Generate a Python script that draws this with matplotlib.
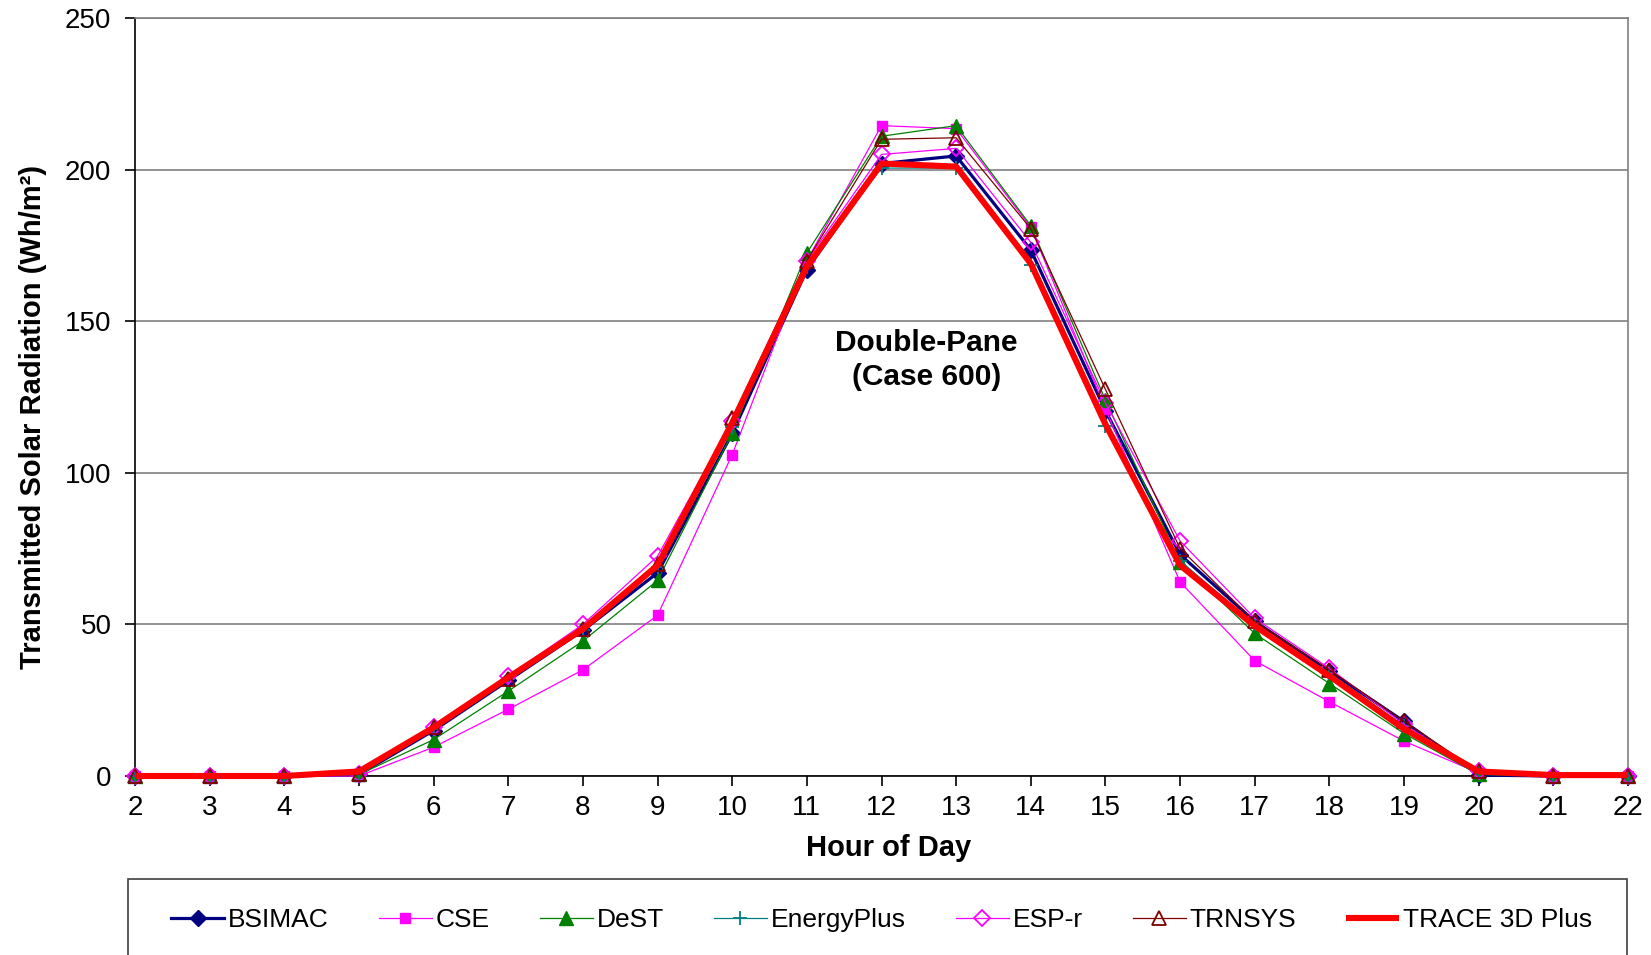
import matplotlib
matplotlib.use("Agg")
import matplotlib.pyplot as plt
from matplotlib.patches import Rectangle

hours = list(range(2, 23))
bsimac = [0, 0, 0, 0.5, 15, 31.5, 48, 67, 113, 167, 202, 204.5, 173.5, 120.5, 73, 51, 34.5, 18, 0.3, 0, 0]
cse = [0, 0, 0, 0, 9.5, 22, 35, 53, 106, 170, 214.5, 213.5, 181, 121, 64, 38, 24.5, 11.5, 1, 0, 0]
dest = [0, 0, 0, 0.5, 12, 28, 44.5, 64.5, 113, 172.5, 211, 214.5, 181.5, 124, 70.5, 47, 30.5, 14, 0.5, 0, 0]
energyplus = [0, 0, 0, 1, 15.5, 32, 48, 69, 115, 168, 200.5, 200.5, 168.5, 115.5, 71, 50, 34, 16.5, 1, 0, 0]
espr = [0, 0, 0, 0.5, 16, 33, 50, 72.5, 117, 170, 205, 207, 176, 123, 77.5, 52, 35.5, 17, 1.5, 0, 0]
trnsys = [0, 0, 0, 0.5, 16, 32, 48.5, 70, 118, 170, 210, 210.5, 180.5, 127.5, 75, 51, 35, 18, 1.5, 0, 0]
trace = [0, 0, 0, 1.5, 16, 32.5, 48.5, 69.5, 116.5, 168, 202, 201, 169, 116, 69.5, 49.5, 33, 15.5, 1.5, 0.3, 0.3]

series_names = ["BSIMAC", "CSE", "DeST", "EnergyPlus", "ESP-r", "TRNSYS", "TRACE 3D Plus"]

plt.rcParams['font.family'] = ['Liberation Sans', 'DejaVu Sans']

fig = plt.figure(figsize=(16.51, 9.55), dpi=100)
ax = fig.add_axes([135/1651, 1 - 776/955, (1628-135)/1651, (776-18)/955])

styles = [
    (bsimac, dict(color='#000080', lw=2.3, marker='D', ms=8, mfc='#000080', mec='#000080')),
    (cse, dict(color='#FF00FF', lw=0.9, marker='s', ms=7, mfc='#FF00FF', mec='#FF00FF')),
    (dest, dict(color='#008000', lw=0.9, marker='^', ms=10, mfc='#008000', mec='#008000')),
    (energyplus, dict(color='#008080', lw=0.9, marker='+', ms=10, mew=1.3, mec='#008080')),
    (espr, dict(color='#FF00FF', lw=0.9, marker='D', ms=8, mfc='none', mec='#FF00FF', mew=1.3)),
    (trnsys, dict(color='#800000', lw=0.9, marker='^', ms=10, mfc='none', mec='#800000', mew=1.3)),
    (trace, dict(color='#FF0000', lw=4.4, solid_capstyle='butt')),
]
handles = []
for (vals, kw), name in zip(styles, series_names):
    h, = ax.plot(hours, vals, label=name, clip_on=False, zorder=3, **kw)
    handles.append(h)

ax.set_xlim(2, 22)
ax.set_ylim(0, 250)
ax.set_xticks(hours)
ax.set_yticks([0, 50, 100, 150, 200, 250])
ax.yaxis.grid(True, color='#808080', lw=1.2)
ax.set_axisbelow(True)
for s in ['top', 'right']:
    ax.spines[s].set_color('#808080')
    ax.spines[s].set_linewidth(1.2)
for s in ['left', 'bottom']:
    ax.spines[s].set_color('black')
    ax.spines[s].set_linewidth(1.2)
ax.tick_params(axis='both', direction='out', length=7, width=1.2, labelsize=20, colors='black')
ax.tick_params(axis='y', pad=10)
ax.tick_params(axis='x', pad=7)

ax.set_xlabel("Hour of Day", fontsize=21, fontweight='bold', labelpad=9)
ax.set_ylabel("Transmitted Solar Radiation (Wh/m²)", fontsize=21, fontweight='bold', labelpad=13)
ax.xaxis.label.set_x(0.505)
ax.yaxis.label.set_y(0.474)

ax.text(12.6, 137.3, "Double-Pane\n(Case 600)", ha='center', va='center', fontsize=21.5,
        fontweight='bold', linespacing=1.27)

# legend box
fig.patches.append(Rectangle((128/1651, -0.05), (1627-128)/1651, 0.05 + 1 - 879/955,
                             transform=fig.transFigure, fill=False, ec='#404040', lw=1.2))
leg = fig.legend(handles=handles, loc='center', bbox_to_anchor=(0.534, 1 - 920/955), ncol=7,
                 frameon=False, prop={'size': 19}, handlelength=2.0,
                 handletextpad=0.15, columnspacing=1.9)

fig.savefig("out.png", dpi=100)
